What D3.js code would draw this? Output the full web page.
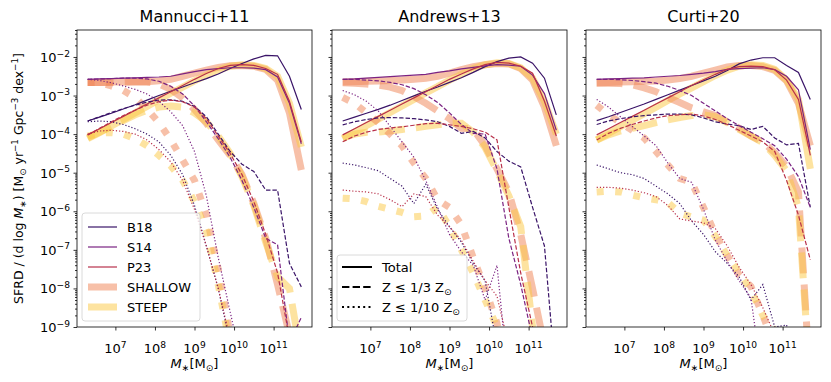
<!DOCTYPE html>
<html>
<head>
<meta charset="utf-8">
<script src="https://cdn.jsdelivr.net/npm/d3@7"></script>
<style>
body { margin: 0; background: #fff; }
svg text { font-family: "DejaVu Sans", sans-serif; fill: #000; }
</style>
</head>
<body>
<svg id="chart" width="831" height="382"></svg>
<script>
// stellar mass grid, log10(M*/Msun)
const logM = [6.3, 6.6, 6.9, 7.2, 7.5, 7.8, 8.1, 8.4, 8.7, 9.0, 9.3, 9.6, 9.9, 10.2, 10.5, 10.8, 11.1, 11.4, 11.7];

const panelTitles = ["Mannucci+11", "Andrews+13", "Curti+20"];
const models = ["B18", "S14", "P23", "SHALLOW", "STEEP"];
const modelColors = ["#3a1468", "#7b2382", "#b8304a", "#ef8151", "#fbc741"];
const xTickExps = [7, 8, 9, 10, 11];
const yTickExps = [-9, -8, -7, -6, -5, -4, -3, -2];

// log10 SFRD values, one row per model (B18, S14, P23, SHALLOW, STEEP)
// Mannucci+11
const m11Total = [
  [-3.66,-3.56,-3.46,-3.35,-3.24,-3.12,-3.0,-2.89,-2.78,-2.67,-2.56,-2.44,-2.3,-2.17,-2.05,-1.96,-1.97,-2.5,-3.36],
  [-2.58,-2.57,-2.56,-2.55,-2.54,-2.53,-2.52,-2.5,-2.44,-2.38,-2.33,-2.3,-2.28,-2.28,-2.29,-2.33,-2.52,-3.2,-4.25],
  [-4.02,-3.86,-3.7,-3.54,-3.38,-3.22,-3.06,-2.9,-2.74,-2.58,-2.43,-2.3,-2.22,-2.2,-2.22,-2.3,-2.45,-3.15,-4.2],
  [-2.66,-2.66,-2.65,-2.65,-2.64,-2.64,-2.62,-2.58,-2.5,-2.42,-2.34,-2.27,-2.23,-2.22,-2.24,-2.32,-2.6,-3.45,-4.93],
  [-4.12,-3.96,-3.79,-3.62,-3.45,-3.28,-3.11,-2.94,-2.78,-2.62,-2.47,-2.34,-2.24,-2.2,-2.22,-2.3,-2.5,-3.2,-4.33]
];
const m11Third = [
  [-3.66,-3.55,-3.44,-3.34,-3.25,-3.17,-3.12,-3.11,-3.15,-3.28,-3.55,-4.0,-4.45,-4.78,-4.97,-5.45,-5.45,-7.35,-7.96],
  [-2.58,-2.57,-2.56,-2.55,-2.55,-2.57,-2.63,-2.76,-2.96,-3.27,-3.68,-4.12,-4.6,-5.2,-5.9,-6.7,-6.87,-9.4,-8.75],
  [-4.02,-3.85,-3.68,-3.52,-3.38,-3.25,-3.16,-3.12,-3.16,-3.3,-3.6,-4.05,-4.5,-5.05,-5.75,-6.6,-7.6,-9.3,-10.5],
  [-2.66,-2.66,-2.66,-2.65,-2.64,-2.65,-2.7,-2.84,-3.06,-3.36,-3.72,-4.15,-4.55,-5.05,-5.8,-6.7,-7.9,-9.2,-10.5],
  [-4.1,-3.95,-3.8,-3.65,-3.5,-3.38,-3.3,-3.27,-3.3,-3.45,-3.68,-4.05,-4.5,-5.1,-5.85,-6.8,-7.7,-8.0,-9.8]
];
const m11Tenth = [
  [-3.68,-3.66,-3.68,-3.75,-3.86,-4.0,-4.2,-4.55,-5.05,-5.85,-6.9,-8.0,-9.4,-10.5],
  [-2.58,-2.61,-2.67,-2.75,-2.84,-2.96,-3.15,-3.42,-3.78,-4.45,-5.6,-7.2,-8.6,-10.0],
  [-4.0,-3.92,-3.9,-3.93,-4.0,-4.15,-4.4,-4.72,-5.2,-5.95,-6.9,-8.0,-9.3,-10.5],
  [-2.66,-2.66,-2.75,-2.87,-3.05,-3.35,-3.7,-4.15,-4.67,-5.2,-6.1,-7.5,-9.2,-10.5],
  [-4.05,-3.97,-3.96,-4.0,-4.12,-4.3,-4.55,-4.82,-5.2,-5.75,-6.5,-7.9,-9.5,-11]
];

// Andrews+13
const a13Total = [
  [-3.66,-3.56,-3.46,-3.36,-3.25,-3.13,-3.01,-2.89,-2.78,-2.66,-2.54,-2.4,-2.25,-2.12,-2.03,-2.0,-2.16,-2.55,-3.5],
  [-2.58,-2.57,-2.55,-2.53,-2.51,-2.49,-2.47,-2.45,-2.4,-2.36,-2.31,-2.27,-2.23,-2.2,-2.21,-2.24,-2.47,-2.95,-3.9],
  [-4.02,-3.86,-3.7,-3.54,-3.38,-3.22,-3.06,-2.9,-2.74,-2.58,-2.44,-2.31,-2.2,-2.14,-2.16,-2.24,-2.42,-3.15,-4.05],
  [-2.65,-2.64,-2.63,-2.62,-2.61,-2.6,-2.58,-2.55,-2.5,-2.42,-2.33,-2.25,-2.2,-2.17,-2.18,-2.3,-2.6,-3.3,-4.3],
  [-4.12,-3.95,-3.78,-3.61,-3.44,-3.27,-3.1,-2.93,-2.77,-2.6,-2.45,-2.3,-2.2,-2.15,-2.17,-2.28,-2.55,-3.15,-4.0]
];
const a13Third = [
  [-3.76,-3.68,-3.62,-3.58,-3.57,-3.58,-3.6,-3.63,-3.68,-3.8,-3.98,-3.93,-4.1,-4.45,-4.7,-4.85,-5.9,-6.9,-10.5],
  [-2.58,-2.58,-2.6,-2.62,-2.66,-2.72,-2.82,-2.98,-3.18,-3.45,-3.75,-3.98,-4.0,-4.9,-6.7,-7.9,-9.3,-10.5],
  [-4.2,-4.05,-3.95,-3.88,-3.84,-3.81,-3.77,-3.73,-3.72,-3.76,-3.8,-3.86,-3.95,-4.15,-5.9,-7.6,-9.0,-10.5],
  [-2.67,-2.68,-2.7,-2.73,-2.78,-2.87,-3.03,-3.2,-3.4,-3.6,-3.85,-3.87,-4.3,-4.9,-5.5,-6.6,-8.0,-9.5,-10.5],
  [-4.1,-4.0,-3.95,-3.95,-3.92,-3.88,-3.84,-3.8,-3.76,-3.72,-3.72,-3.95,-4.35,-4.95,-5.6,-6.4,-9.0,-10.5]
];
const a13Tenth = [
  [-4.75,-4.8,-4.87,-4.95,-5.15,-5.35,-5.8,-5.3,-5.95,-6.4,-6.8,-7.35,-7.8,-9.5,-10.5],
  [-2.87,-2.98,-3.15,-3.4,-3.8,-4.2,-4.6,-5.2,-5.9,-6.6,-7.05,-7.4,-8.3,-7.4,-10.5],
  [-5.45,-5.48,-5.5,-5.55,-5.7,-5.88,-5.55,-5.62,-6.1,-6.4,-6.75,-7.3,-7.8,-8.2,-9.5,-10.5],
  [-3.05,-3.2,-3.45,-3.7,-4.0,-4.3,-4.75,-5.15,-5.7,-5.9,-6.35,-7.2,-8.0,-8.9,-10.5],
  [-5.66,-5.68,-5.75,-5.87,-5.95,-6.03,-6.14,-6.12,-5.9,-6.4,-7.0,-7.6,-8.3,-9.0,-10.5]
];

// Curti+20
const c20Total = [
  [-3.65,-3.55,-3.44,-3.33,-3.22,-3.1,-2.98,-2.86,-2.74,-2.62,-2.5,-2.35,-2.18,-2.08,-2.02,-2.02,-2.22,-2.4,-3.1],
  [-2.58,-2.57,-2.56,-2.55,-2.54,-2.52,-2.5,-2.48,-2.45,-2.42,-2.38,-2.32,-2.3,-2.29,-2.28,-2.33,-2.5,-2.85,-4.4],
  [-4.02,-3.86,-3.7,-3.54,-3.38,-3.22,-3.06,-2.9,-2.74,-2.59,-2.45,-2.32,-2.25,-2.24,-2.25,-2.33,-2.6,-3.1,-4.55],
  [-2.67,-2.66,-2.65,-2.64,-2.63,-2.62,-2.6,-2.56,-2.5,-2.42,-2.34,-2.26,-2.22,-2.22,-2.25,-2.35,-2.62,-3.2,-4.3],
  [-4.15,-3.98,-3.81,-3.64,-3.47,-3.3,-3.13,-2.96,-2.8,-2.64,-2.48,-2.34,-2.24,-2.2,-2.22,-2.32,-2.6,-3.1,-4.9]
];
const c20Third = [
  [-3.75,-3.66,-3.6,-3.55,-3.52,-3.5,-3.48,-3.48,-3.5,-3.58,-3.68,-3.74,-3.78,-3.88,-3.8,-4.1,-4.28,-4.24,-5.9],
  [-2.58,-2.58,-2.59,-2.61,-2.64,-2.68,-2.76,-2.87,-3.0,-3.2,-3.4,-3.6,-3.78,-3.95,-4.12,-4.3,-4.65,-5.1,-5.9],
  [-4.15,-3.98,-3.85,-3.75,-3.66,-3.58,-3.52,-3.5,-3.48,-3.53,-3.62,-3.75,-3.9,-4.05,-4.2,-4.45,-5.2,-6.1,-7.26],
  [-2.68,-2.68,-2.69,-2.72,-2.8,-2.9,-3.05,-3.18,-3.32,-3.42,-3.52,-3.68,-3.85,-4.05,-4.2,-4.48,-4.85,-5.5,-10.5],
  [-4.15,-4.02,-3.92,-3.85,-3.78,-3.7,-3.63,-3.57,-3.52,-3.5,-3.55,-3.7,-3.88,-4.05,-4.22,-4.55,-4.95,-5.9,-10.5]
];
const c20Tenth = [
  [-4.8,-4.9,-5.0,-5.05,-5.15,-5.35,-5.55,-5.8,-6.25,-6.6,-7.05,-7.35,-7.7,-8.3,-7.9,-9.0,-8.95,-10.5],
  [-3.1,-3.3,-3.55,-3.8,-4.05,-4.3,-4.75,-5.15,-5.25,-5.95,-6.75,-7.3,-7.8,-8.25,-10.5],
  [-5.38,-5.38,-5.4,-5.45,-5.52,-5.62,-5.85,-6.2,-6.25,-6.3,-6.45,-6.9,-7.45,-7.9,-8.5,-9.2,-10.5],
  [-3.25,-3.5,-3.7,-3.9,-4.1,-4.45,-4.8,-5.15,-5.25,-5.9,-6.6,-7.15,-7.65,-7.95,-8.7,-9.5],
  [-5.5,-5.48,-5.5,-5.58,-5.65,-5.7,-5.77,-6.05,-6.15,-6.23,-6.65,-7.15,-7.6,-8.05,-8.7,-9.1,-10.5]
];

const panelData = [
  [m11Total, m11Third, m11Tenth],
  [a13Total, a13Third, a13Tenth],
  [c20Total, c20Third, c20Tenth]
];

var svg = d3.select("#chart");

var plotW = 235, plotH = 297, plotTop = 30;
var lefts = [77, 332, 586];

var x = d3.scaleLog().domain([Math.pow(10, 6.03), Math.pow(10, 11.97)]).range([0, plotW]);
var y = d3.scaleLog().domain([1e-9, 5e-2]).range([plotH, 0]);

// matplotlib-like dash patterns: 0 solid, 1 dashed, 2 dotted
function dashFor(style, lw) {
  if (style == 1) return (3.7 * lw) + "," + (1.6 * lw);
  if (style == 2) return lw + "," + (1.65 * lw);
  return null;
}

// text with super/subscripts, parts = [[text, kind]]
function rich(sel, parts, size) {
  var off = 0;
  parts.forEach(function(p) {
    var target = p[1] == "sup" ? -0.42 * size : (p[1] == "sub" ? 0.25 * size : 0);
    var ts = sel.append("tspan").text(p[0]).attr("dy", target - off);
    off = target;
    if (p[1] == "sup" || p[1] == "sub") ts.attr("font-size", 0.7 * size);
    if (p[1] == "it") ts.attr("font-style", "italic");
  });
}

var line = d3.line()
  .x(function(d, i) { return x(Math.pow(10, logM[i])); })
  .y(function(d) { return y(Math.pow(10, d)); });

var minorVals = [];
yTickExps.forEach(function(e) {
  for (var k = 2; k <= 9; k++) {
    if (k * Math.pow(10, e) <= 5e-2) minorVals.push(k * Math.pow(10, e));
  }
});

panelData.forEach(function(sets, p) {
  var g = svg.append("g").attr("transform", "translate(" + lefts[p] + "," + plotTop + ")");

  g.append("clipPath").attr("id", "clip" + p)
    .append("rect").attr("width", plotW).attr("height", plotH);

  var lines = g.append("g").attr("clip-path", "url(#clip" + p + ")");

  // thick model variants first
  sets.forEach(function(rows, s) {
    [3, 4].forEach(function(m) {
      lines.append("path")
        .attr("d", line(rows[m]))
        .attr("fill", "none")
        .attr("stroke", modelColors[m])
        .attr("stroke-opacity", 0.5)
        .attr("stroke-width", 7)
        .attr("stroke-dasharray", dashFor(s, 7));
    });
  });
  // thin lines
  sets.forEach(function(rows, s) {
    [0, 1, 2].forEach(function(m) {
      lines.append("path")
        .attr("d", line(rows[m]))
        .attr("fill", "none")
        .attr("stroke", modelColors[m])
        .attr("stroke-width", 1.2)
        .attr("stroke-dasharray", dashFor(s, 1.2));
    });
  });

  // axes
  var xAxis = g.append("g").attr("transform", "translate(0," + plotH + ")")
    .call(d3.axisBottom(x).tickValues(xTickExps.map(function(e) { return Math.pow(10, e); }))
      .tickSize(3.5).tickFormat(function() { return ""; }));
  var yAxis = g.append("g")
    .call(d3.axisLeft(y).tickValues(yTickExps.map(function(e) { return Math.pow(10, e); }))
      .tickSize(3.5).tickFormat(function() { return ""; }));
  var yMinor = g.append("g")
    .call(d3.axisLeft(y).tickValues(minorVals).tickSize(2).tickFormat(function() { return ""; }));
  [xAxis, yAxis, yMinor].forEach(function(a) {
    a.select(".domain").remove();
    a.selectAll("line").attr("stroke", "#000").attr("stroke-width", 0.8);
  });

  g.selectAll(".xlab").data(xTickExps).enter()
    .append("text")
    .attr("x", function(d) { return x(Math.pow(10, d)); })
    .attr("y", plotH + 26)
    .attr("text-anchor", "middle")
    .attr("font-size", 13)
    .each(function(d) { rich(d3.select(this), [["10", ""], [String(d), "sup"]], 13); });

  if (p == 0) {
    g.selectAll(".ylab").data(yTickExps).enter()
      .append("text")
      .attr("x", -7)
      .attr("y", function(d) { return y(Math.pow(10, d)) + 5; })
      .attr("text-anchor", "end")
      .attr("font-size", 13)
      .each(function(d) { rich(d3.select(this), [["10", ""], [String(d).replace("-", "\u2212"), "sup"]], 13); });
  }

  g.append("rect").attr("width", plotW).attr("height", plotH)
    .attr("fill", "none").attr("stroke", "#000").attr("stroke-width", 0.8);

  g.append("text")
    .attr("x", plotW / 2).attr("y", -8)
    .attr("text-anchor", "middle").attr("font-size", 16)
    .text(panelTitles[p]);

  var xl = g.append("text")
    .attr("x", plotW / 2).attr("y", plotH + 41)
    .attr("text-anchor", "middle").attr("font-size", 13);
  rich(xl, [["M", "it"], ["\u2217", "sub"], ["[M", ""], ["\u2299", "sub"], ["]", ""]], 13);
});

// y-axis label
var yl = svg.append("text")
  .attr("transform", "translate(23," + (plotTop + plotH / 2) + ") rotate(-90)")
  .attr("text-anchor", "middle").attr("font-size", 12.5);
rich(yl, [["SFRD / (d log ", ""], ["M", "it"], ["\u2217", "sub"], [") [M", ""], ["\u2299", "sub"],
  [" yr", ""], ["\u22121", "sup"], [" Gpc", ""], ["\u22123", "sup"], [" dex", ""], ["\u22121", "sup"], ["]", ""]], 12.5);

// legend: models
var leg1 = svg.append("g").attr("transform", "translate(82,213)");
leg1.append("rect").attr("width", 118).attr("height", 108).attr("rx", 3)
  .attr("fill", "#fff").attr("fill-opacity", 0.8).attr("stroke", "#d0d0d0").attr("stroke-width", 0.8);
models.forEach(function(m, i) {
  var cy = 14 + i * 20;
  var thick = i >= 3;
  leg1.append("line").attr("x1", 6).attr("x2", 35).attr("y1", cy).attr("y2", cy)
    .attr("stroke", modelColors[i])
    .attr("stroke-width", thick ? 7 : 1.2)
    .attr("stroke-opacity", thick ? 0.5 : 1);
  leg1.append("text").attr("x", 45).attr("y", cy + 4.5).attr("font-size", 13).text(m);
});

// legend: metallicity cuts
var zParts = [
  [["Total", ""]],
  [["Z \u2264 1/3 Z", ""], ["\u2299", "sub"]],
  [["Z \u2264 1/10 Z", ""], ["\u2299", "sub"]]
];
var leg2 = svg.append("g").attr("transform", "translate(337,255)");
leg2.append("rect").attr("width", 130).attr("height", 66).attr("rx", 3)
  .attr("fill", "#fff").attr("fill-opacity", 0.8).attr("stroke", "#d0d0d0").attr("stroke-width", 0.8);
zParts.forEach(function(parts, i) {
  var cy = 12 + i * 20;
  leg2.append("line").attr("x1", 5).attr("x2", 35).attr("y1", cy).attr("y2", cy)
    .attr("stroke", "#000").attr("stroke-width", 2)
    .attr("stroke-dasharray", dashFor(i, 2));
  var t = leg2.append("text").attr("x", 45).attr("y", cy + 4.5).attr("font-size", 13);
  rich(t, parts, 13);
});
</script>
</body>
</html>
